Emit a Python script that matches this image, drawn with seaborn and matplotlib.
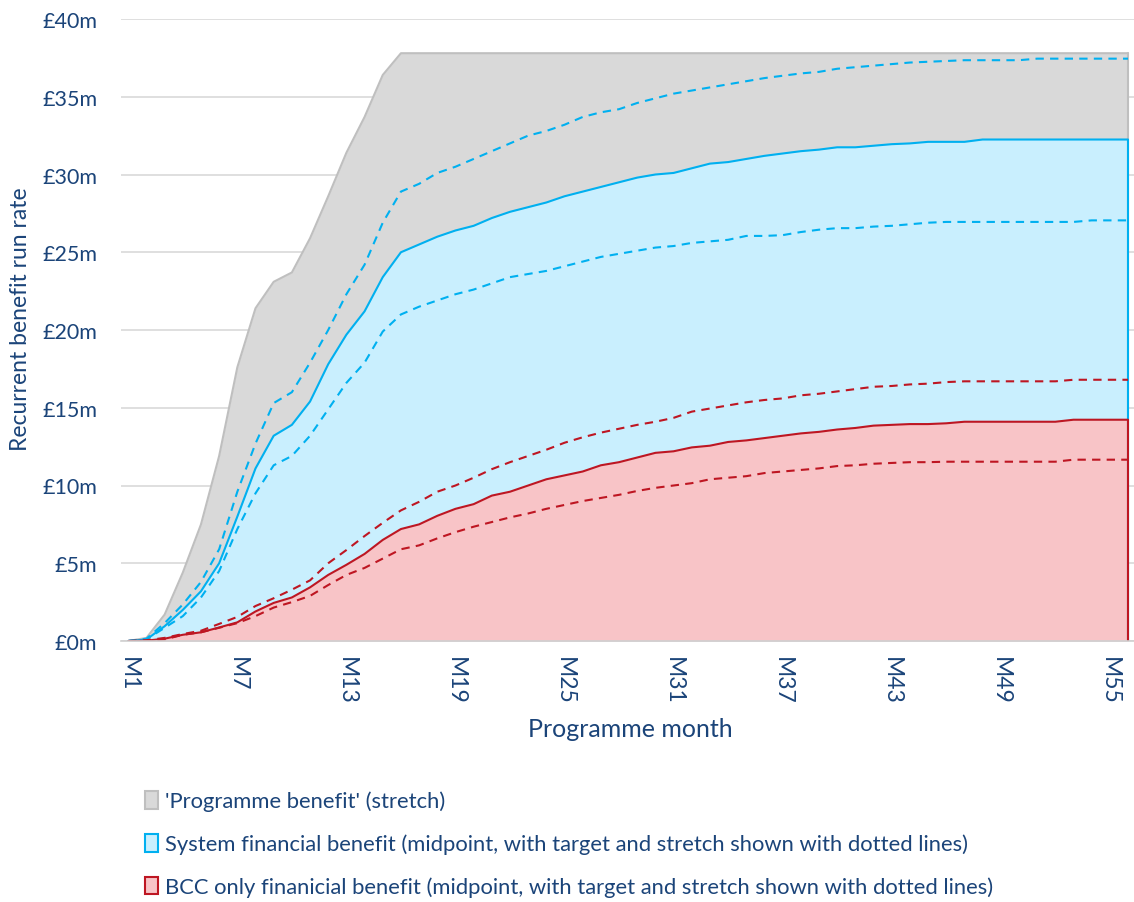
import numpy as np
import pandas as pd
import matplotlib
matplotlib.use("Agg")
import matplotlib.pyplot as plt
from matplotlib.patches import Patch
import seaborn as sns

# ---- data (£m, recurrent benefit run rate by programme month) ----
months = list(range(1, 57))
tick_months = [1, 7, 13, 19, 25, 31, 37, 43, 49, 55]
tick_labels = [f"M{m}" for m in tick_months]

programme_stretch = [0, 0.2, 1.7, 4.4, 7.5, 11.9, 17.6, 21.4, 23.1, 23.7,
                     25.9, 28.6, 31.4, 33.7, 36.4] + [37.8] * 41

system_mid = [0, 0.1, 0.95, 2.0, 3.2, 5.0, 8.0, 11.1, 13.2, 13.9,
              15.4, 17.8, 19.7, 21.2, 23.4, 25.0, 25.5, 26.0, 26.4, 26.7,
              27.2, 27.6, 27.9, 28.2, 28.6, 28.9, 29.2, 29.5, 29.8, 30.0,
              30.1, 30.4, 30.7, 30.8, 31.0, 31.2, 31.35, 31.5, 31.6, 31.75,
              31.75, 31.85, 31.95, 32.0, 32.1, 32.1, 32.1] + [32.25] * 9

system_stretch = [0, 0.15, 1.15, 2.35, 3.8, 5.9, 9.6, 12.7, 15.3, 16.0,
                  17.9, 20.0, 22.3, 24.2, 26.9, 28.9, 29.4, 30.1, 30.5, 31.0,
                  31.5, 32.0, 32.5, 32.8, 33.2, 33.7, 34.0, 34.2, 34.6, 34.9,
                  35.2, 35.4, 35.6, 35.8, 36.0, 36.2, 36.35, 36.5, 36.6, 36.8,
                  36.9, 37.0, 37.1, 37.2, 37.25, 37.3, 37.35, 37.35, 37.35, 37.35] + [37.45] * 6

system_target = [0, 0.1, 0.85, 1.6, 2.8, 4.5, 7.2, 9.5, 11.3, 11.9,
                 13.2, 14.9, 16.6, 17.9, 19.9, 21.0, 21.5, 21.9, 22.3, 22.6,
                 23.0, 23.4, 23.6, 23.8, 24.1, 24.4, 24.7, 24.9, 25.1, 25.3,
                 25.4, 25.6, 25.7, 25.8, 26.05, 26.05, 26.1, 26.3, 26.45, 26.55,
                 26.55, 26.65, 26.7, 26.8, 26.9] + [26.95] * 8 + [27.05] * 3

bcc_mid = [0, 0.02, 0.15, 0.4, 0.56, 0.87, 1.2, 1.9, 2.45, 2.8,
           3.45, 4.25, 4.9, 5.6, 6.5, 7.2, 7.5, 8.05, 8.5, 8.8,
           9.35, 9.6, 10.0, 10.4, 10.65, 10.9, 11.3, 11.5, 11.8, 12.1,
           12.2, 12.45, 12.56, 12.8, 12.9, 13.05, 13.2, 13.35, 13.45, 13.6,
           13.7, 13.85, 13.9, 13.95, 13.95, 14.0] + [14.1] * 6 + [14.23] * 4

bcc_stretch = [0, 0.05, 0.2, 0.45, 0.66, 1.1, 1.55, 2.25, 2.75, 3.3,
               3.9, 5.0, 5.85, 6.75, 7.6, 8.4, 8.95, 9.6, 10.0, 10.5,
               11.05, 11.5, 11.9, 12.3, 12.75, 13.1, 13.4, 13.65, 13.9, 14.1,
               14.35, 14.75, 14.95, 15.15, 15.35, 15.5, 15.6, 15.8, 15.9, 16.05,
               16.2, 16.35, 16.4, 16.5, 16.55, 16.65] + [16.7] * 6 + [16.8] * 4

bcc_target = [0, 0.02, 0.1, 0.4, 0.56, 0.85, 1.15, 1.6, 2.15, 2.5,
              2.9, 3.6, 4.25, 4.7, 5.3, 5.9, 6.15, 6.6, 7.0, 7.35,
              7.65, 7.95, 8.2, 8.5, 8.75, 9.0, 9.2, 9.4, 9.65, 9.85,
              10.0, 10.15, 10.4, 10.5, 10.6, 10.8, 10.9, 11.0, 11.1, 11.25,
              11.3, 11.4, 11.45, 11.5, 11.5] + [11.53] * 7 + [11.66] * 4

legend_labels = [
    "'Programme benefit' (stretch)",
    "System financial benefit (midpoint, with target and stretch shown with dotted lines)",
    "BCC only finanicial benefit (midpoint, with target and stretch shown with dotted lines)",
]

# ---- styling ----
TEXT = "#1B4479"
GREY_FILL, GREY_EDGE = "#D9D9D9", "#BFBFBF"
BLUE_FILL, BLUE_LINE = "#C9EFFE", "#00B0F0"
RED_FILL, RED_LINE = "#F8C4C7", "#BE1622"

sns.set_theme(style="white")
plt.rcParams["font.family"] = ["Lato", "DejaVu Sans"]

df = pd.DataFrame({
    "month": months,
    "programme_stretch": programme_stretch,
    "system_mid": system_mid,
    "system_stretch": system_stretch,
    "system_target": system_target,
    "bcc_mid": bcc_mid,
    "bcc_stretch": bcc_stretch,
    "bcc_target": bcc_target,
})

fig = plt.figure(figsize=(11.34, 9.03), dpi=100)
ax = fig.add_axes([121 / 1134, 1 - 642 / 903, 1 - 121 / 1134, (642 - 20) / 903])

x = df["month"].to_numpy()
last = x[-1]

# overlapping areas (each drawn from zero, largest first)
for col, fill, edge in [("programme_stretch", GREY_FILL, GREY_EDGE),
                        ("system_mid", BLUE_FILL, BLUE_LINE),
                        ("bcc_mid", RED_FILL, RED_LINE)]:
    y = df[col].to_numpy()
    ax.fill_between(x, 0, y, color=fill, linewidth=0, zorder=2)
    sns.lineplot(x=x, y=y, color=edge, linewidth=1.5, ax=ax, zorder=4)
    ax.plot([last, last], [0, y[-1]], color=edge, linewidth=1.5, zorder=4)

# target / stretch dashed lines
for col, color in [("system_stretch", BLUE_LINE), ("system_target", BLUE_LINE),
                   ("bcc_stretch", RED_LINE), ("bcc_target", RED_LINE)]:
    sns.lineplot(x=x, y=df[col].to_numpy(), color=color, linewidth=1.5,
                 ax=ax, zorder=5).lines[-1].set_dashes((4, 3))

# axes
ax.set_xlim(0.6, 56.33)
ax.set_ylim(0, 40)
ax.set_yticks(np.arange(0, 41, 5))
ax.set_yticklabels([f"£{v}m" for v in range(0, 41, 5)], color=TEXT, fontsize=15.5)
ax.yaxis.grid(True, color="#D9D9D9", linewidth=1.2, zorder=0)
ax.set_axisbelow(True)
ax.tick_params(axis="y", length=0, pad=17)

ax.set_xticks(tick_months)
ax.set_xticklabels(tick_labels, rotation=-90, color=TEXT, fontsize=16.5)
ax.set_xticks(np.arange(0.6, 56.33, 3), minor=True)
ax.tick_params(axis="x", which="major", length=0, pad=11)
ax.tick_params(axis="x", which="minor", length=6, width=1.2, color="#D0D0D0", direction="out")

for side in ["left", "right", "top"]:
    ax.spines[side].set_visible(False)
ax.spines["bottom"].set_color("#D0D0D0")
ax.spines["bottom"].set_linewidth(1.2)
ax.spines["bottom"].set_zorder(6)

ax.set_xlabel("Programme month", color=TEXT, fontsize=18)
ax.set_ylabel("Recurrent benefit run rate", color=TEXT, fontsize=16.5)
ax.xaxis.set_label_coords((630 - 121) / 1013, -(718 - 642) / 622)
ax.yaxis.set_label_coords(-(121 - 31) / 1013, (642 - 319) / 622)

handles = [Patch(facecolor=GREY_FILL, edgecolor=GREY_EDGE, linewidth=1.5),
           Patch(facecolor=BLUE_FILL, edgecolor=BLUE_LINE, linewidth=1.5),
           Patch(facecolor=RED_FILL, edgecolor=RED_LINE, linewidth=1.5)]
leg = fig.legend(handles, legend_labels, loc="upper left",
                 bbox_to_anchor=(136 / 1134, 1 - 783 / 903), frameon=False,
                 fontsize=15.8, handlelength=0.6, handleheight=0.85,
                 handletextpad=0.3, labelspacing=1.02, borderaxespad=0)
for t in leg.get_texts():
    t.set_color(TEXT)

fig.savefig("out.png", dpi=100)
